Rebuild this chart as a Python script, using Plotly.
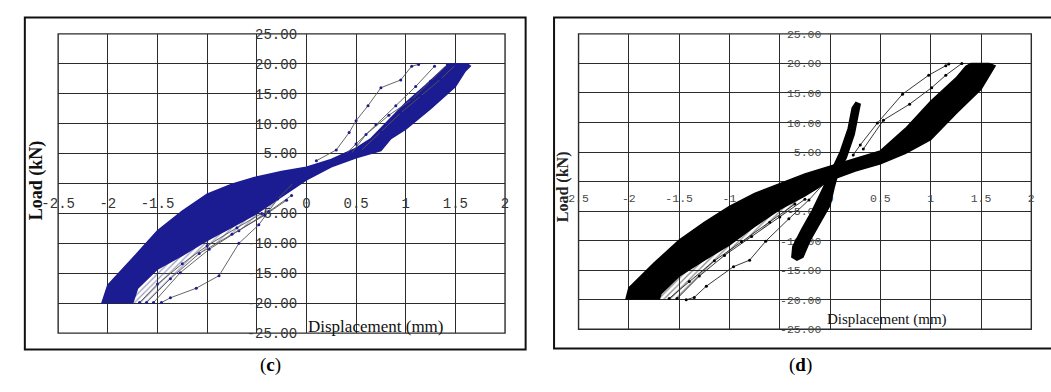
import plotly.graph_objects as go

# ---------------- data ----------------
x_ticks = [-2.5, -2, -1.5, -1, -0.5, 0, 0.5, 1, 1.5, 2]
x_ticktext_c = ["-2.5", "-2", "-1.5", "-1", "", "0", "0.5", "1", "1.5", "2"]
x_ticktext_d = ["2.5", "-2", "-1.5", "-1", "", "0", "0.5", "1", "1.5", "2"]
y_ticks = [-25, -20, -15, -10, -5, 0, 5, 10, 15, 20, 25]
y_ticktext = ["-25.00", "-20.00", "-15.00", "-10.00", "-5.00", "", "5.00",
              "10.00", "15.00", "20.00", "25.00"]

# panel (c): dense hysteresis band outline (displacement mm, load kN)
c_band_x = [-2.06, -2.00, -1.75, -1.50, -1.25, -1.00, -0.75, -0.50, -0.25, 0.00,
            0.25, 0.50, 0.65, 0.80, 1.00, 1.20, 1.40, 1.45, 1.62, 1.65,
            1.60, 1.50, 1.25, 1.00, 0.85, 0.75, 0.50, 0.25, 0.00,
            -0.25, -0.50, -0.75, -1.00, -1.25, -1.50, -1.70, -1.75]
c_band_y = [-20.0, -17.0, -12.5, -7.9, -4.6, -1.8, -0.1, 1.1, 2.0, 2.7,
            4.0, 5.9, 7.5, 10.0, 13.5, 16.4, 19.5, 20.0, 20.0, 19.6,
            18.8, 16.2, 12.5, 9.1, 7.5, 5.5, 4.3, 2.8, 0.6,
            -2.2, -5.0, -7.3, -9.5, -12.0, -14.3, -17.5, -20.0]
# panel (c): zone of many thin unloading branches below the band
c_hatch_x = [-1.75, -1.70, -1.50, -1.25, -1.00, -0.75, -0.50, -0.25,
             -0.42, -0.75, -1.08, -1.37, -1.61]
c_hatch_y = [-20.0, -17.5, -14.3, -12.0, -9.5, -7.3, -5.0, -2.2,
             -5.3, -8.5, -11.7, -15.9, -20.0]

# panel (c): individual loading branches outside the dense band
c_loop1_x = [-1.46, -1.37, -1.11, -0.88, -0.68, -0.48, -0.29, -0.13]
c_loop1_y = [-19.9, -19.1, -17.5, -15.4, -10.0, -6.9, -2.6, 0.1]
c_loop2_x = [-1.54, -1.27, -0.98, -0.68, -0.38, -0.15]
c_loop2_y = [-19.9, -14.9, -11.0, -7.9, -4.7, -2.0]
c_loop3_x = [-1.61, -1.37, -1.08, -0.75, -0.42, -0.20]
c_loop3_y = [-19.9, -15.9, -11.7, -8.5, -5.3, -2.8]
c_loop4_x = [0.10, 0.30, 0.43, 0.50, 0.62, 0.75, 0.95, 1.06, 1.13]
c_loop4_y = [3.8, 5.6, 8.5, 10.5, 13.0, 16.0, 17.3, 19.6, 19.9]
c_loop5_x = [0.40, 0.50, 0.70, 0.90, 1.10, 1.29]
c_loop5_y = [5.0, 6.6, 9.8, 13.0, 16.2, 19.6]
c_loop6_x = [0.45, 0.60, 0.83, 1.06, 1.25, 1.42]
c_loop6_y = [5.0, 8.2, 11.4, 14.0, 17.1, 19.9]
c_loop7_x = [-1.68, -1.50, -1.25, -1.00, -0.70, -0.45]
c_loop7_y = [-19.9, -16.8, -13.4, -10.4, -7.4, -5.0]
c_loop8_x = [0.55, 0.75, 0.95, 1.15, 1.35, 1.50]
c_loop8_y = [5.5, 8.6, 11.8, 14.6, 17.4, 19.8]

# panel (d): dense hysteresis band outline
d_band_x = [-2.03, -2.00, -1.75, -1.50, -1.25, -1.00, -0.75, -0.50, -0.25, 0.00,
            0.25, 0.50, 0.75, 1.00, 1.25, 1.35, 1.40, 1.58, 1.64,
            1.50, 1.25, 1.00, 0.75, 0.50, 0.25, 0.00,
            -0.25, -0.50, -0.75, -1.00, -1.25, -1.50, -1.68, -1.70]
d_band_y = [-20.0, -18.0, -13.8, -9.9, -6.9, -4.2, -2.0, -0.3, 1.3, 2.6,
            3.9, 5.2, 9.0, 13.6, 17.5, 19.5, 20.0, 20.0, 19.6,
            15.6, 11.5, 7.1, 4.8, 3.0, 1.8, 0.2,
            -2.4, -4.7, -7.6, -10.7, -13.3, -16.0, -19.0, -20.0]
# panel (d): zone of many thin unloading branches below the band
d_hatch_x = [-1.70, -1.68, -1.50, -1.25, -1.00, -0.75, -0.50, -0.25,
             -0.50, -0.78, -1.05, -1.30, -1.52, -1.52]
d_hatch_y = [-20.0, -19.0, -16.0, -13.3, -10.7, -7.6, -4.7, -2.4,
             -6.0, -9.3, -12.5, -16.0, -19.8, -20.0]

# panel (d): steep branch crossing the origin
d_steep_x = [0.30, 0.24, 0.16, 0.08, 0.04, 0.00, -0.10, -0.20, -0.27, -0.33, -0.38,
             -0.37, -0.28, -0.18, -0.08, 0.00, 0.10, 0.18, 0.22, 0.26]
d_steep_y = [13.2, 8.0, 4.0, 1.5, -1.0, -4.0, -7.0, -10.0, -12.8, -13.3, -12.8,
             -11.0, -8.0, -5.0, -1.5, 1.5, 5.0, 9.0, 12.5, 13.5]

# panel (d): individual branches
d_loop1_x = [0.23, 0.30, 0.47, 0.72, 0.98, 1.15, 1.18]
d_loop1_y = [4.5, 6.2, 9.9, 14.8, 18.0, 19.6, 19.9]
d_loop2_x = [0.33, 0.53, 0.79, 1.01, 1.15, 1.31]
d_loop2_y = [5.5, 10.4, 13.1, 15.9, 18.0, 20.0]
d_loop3_x = [-1.43, -1.35, -1.23, -0.96, -0.80, -0.64, -0.41, -0.21, -0.06]
d_loop3_y = [-20.0, -19.6, -17.7, -14.4, -13.3, -10.1, -6.3, -3.1, -0.3]
d_loop4_x = [-1.52, -1.30, -1.05, -0.78, -0.50, -0.25]
d_loop4_y = [-19.8, -16.0, -12.5, -9.3, -6.0, -3.0]
d_loop5_x = [-1.60, -1.40, -1.15, -0.88, -0.60, -0.35]
d_loop5_y = [-19.8, -16.9, -13.4, -10.2, -6.9, -3.8]

# ---------------- figure ----------------
W, H = 1051, 392
BLUE = "#1c1c92"
GRID = "#2b2b2b"

fig = go.Figure()

def band(x, y, color, xa, ya):
    fig.add_trace(go.Scatter(x=x, y=y, mode="lines", fill="toself", fillcolor=color,
                             line=dict(color=color, width=1.5), xaxis=xa, yaxis=ya,
                             hoverinfo="skip", showlegend=False))

def hatch(x, y, color, xa, ya):
    fig.add_trace(go.Scatter(x=x, y=y, mode="lines", fill="toself",
                             fillcolor="rgba(0,0,0,0)",
                             fillpattern=dict(shape="/", fgcolor=color,
                                              bgcolor="rgba(255,255,255,0)",
                                              size=4, solidity=0.3),
                             line=dict(color="rgba(0,0,0,0)", width=0),
                             xaxis=xa, yaxis=ya, hoverinfo="skip", showlegend=False))

def loop(x, y, lcolor, mcolor, xa, ya):
    fig.add_trace(go.Scatter(x=x, y=y, mode="lines+markers",
                             line=dict(color=lcolor, width=0.9),
                             marker=dict(color=mcolor, size=3),
                             xaxis=xa, yaxis=ya, hoverinfo="skip", showlegend=False))

hatch(c_hatch_x, c_hatch_y, "#3a3a7a", "x", "y")
band(c_band_x, c_band_y, BLUE, "x", "y")
for lx, ly in [(c_loop1_x, c_loop1_y), (c_loop2_x, c_loop2_y), (c_loop3_x, c_loop3_y),
               (c_loop7_x, c_loop7_y), (c_loop4_x, c_loop4_y), (c_loop5_x, c_loop5_y),
               (c_loop6_x, c_loop6_y), (c_loop8_x, c_loop8_y)]:
    loop(lx, ly, "#555555", BLUE, "x", "y")

hatch(d_hatch_x, d_hatch_y, "#111111", "x2", "y2")
band(d_band_x, d_band_y, "#000000", "x2", "y2")
band(d_steep_x, d_steep_y, "#000000", "x2", "y2")
for lx, ly in [(d_loop1_x, d_loop1_y), (d_loop2_x, d_loop2_y), (d_loop3_x, d_loop3_y),
               (d_loop4_x, d_loop4_y), (d_loop5_x, d_loop5_y)]:
    loop(lx, ly, "#222222", "#000000", "x2", "y2")

def xaxis(domain, pos, ticktext, size, color, standoff):
    return dict(domain=domain, range=[-2.5, 2], anchor="free", position=pos,
                tickmode="array", tickvals=x_ticks, ticktext=ticktext,
                showgrid=True, gridcolor=GRID, gridwidth=1.4, zeroline=False,
                showline=False, ticks="", ticklabelstandoff=standoff,
                tickfont=dict(family="Liberation Mono", size=size, color=color),
                layer="below traces", fixedrange=True)

def yaxis(domain, pos, size, color, standoff):
    return dict(domain=domain, range=[-25, 25], anchor="free", position=pos,
                tickmode="array", tickvals=y_ticks, ticktext=y_ticktext,
                showgrid=True, gridcolor=GRID, gridwidth=1.4, zeroline=False,
                showline=False, ticks="", ticklabelstandoff=standoff,
                tickfont=dict(family="Liberation Mono", size=size, color=color),
                layer="below traces", fixedrange=True)

fig.update_layout(
    width=W, height=H, margin=dict(l=0, r=0, t=0, b=0),
    paper_bgcolor="white", plot_bgcolor="white", showlegend=False,
    xaxis=xaxis([42 / W, 498 / W], 1 - 184 / H, x_ticktext_c, 14, "#333333", 10),
    yaxis=yaxis([1 - 340 / H, 1 - 28 / H], 296 / W, 14, "#333333", 10),
    xaxis2=xaxis([573 / W, 1035 / W], 1 - 182 / H, x_ticktext_d, 11.5, "#4a4a4a", 8),
    yaxis2=yaxis([1 - 336 / H, 1 - 28 / H], 829 / W, 11.5, "#4a4a4a", 8),
)

# plot-area borders and outer frames
for xr, yr in [("x domain", "y domain"), ("x2 domain", "y2 domain")]:
    fig.add_shape(type="rect", xref=xr, yref=yr, x0=0, x1=1, y0=0, y1=1,
                  line=dict(color=GRID, width=1.4), layer="below")
fig.add_shape(type="rect", xref="paper", yref="paper", x0=8 / W, x1=519 / W,
              y0=1 - 357 / H, y1=1 - 11 / H, line=dict(color="#111111", width=2))
fig.add_shape(type="rect", xref="paper", yref="paper", x0=548 / W, x1=1.02,
              y0=1 - 356 / H, y1=1 - 11 / H, line=dict(color="#111111", width=2))

# axis titles and captions
ann = [
    dict(text="<b>Load (kN)</b>", x=20 / W, y=1 - 181 / H, textangle=-90,
         font=dict(family="Liberation Serif", size=18, color="#111111")),
    dict(text="<b>Load (kN)</b>", x=558 / W, y=1 - 187 / H, textangle=-90,
         font=dict(family="Liberation Serif", size=16, color="#222222")),
    dict(text="Displacement (mm)", x=366 / W, y=1 - 333 / H,
         font=dict(family="Liberation Serif", size=17, color="#111111")),
    dict(text="Displacement (mm)", x=888 / W, y=1 - 326 / H,
         font=dict(family="Liberation Serif", size=15, color="#111111")),
    dict(text="(<b>c</b>)", x=259 / W, y=1 - 373 / H,
         font=dict(family="Liberation Serif", size=19, color="#000000")),
    dict(text="(<b>d</b>)", x=799 / W, y=1 - 373 / H,
         font=dict(family="Liberation Serif", size=19, color="#000000")),
]
for a in ann:
    fig.add_annotation(xref="paper", yref="paper", showarrow=False,
                       xanchor="center", yanchor="middle", **a)

fig.write_html("out.html", config={"displayModeBar": False},
               post_script="document.body.style.margin='0';"
                           "document.body.style.overflow='hidden';")
